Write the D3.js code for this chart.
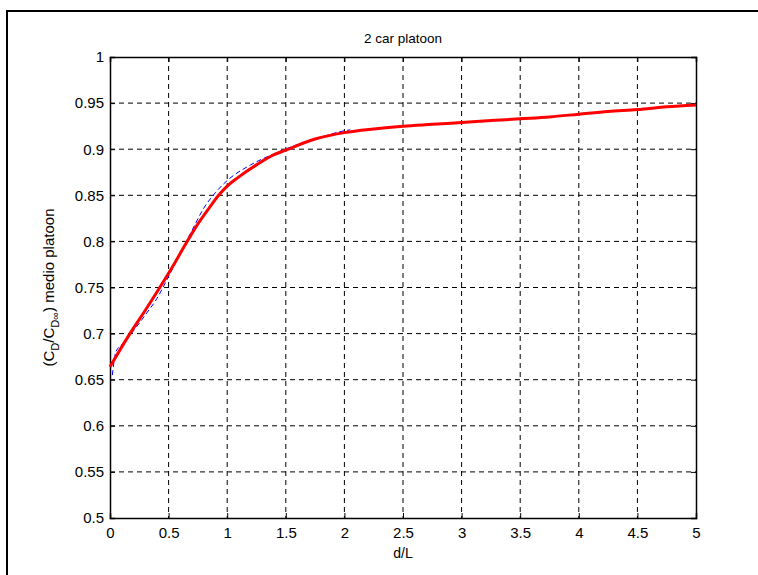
<!DOCTYPE html>
<html>
<head>
<meta charset="utf-8">
<script src="https://cdn.jsdelivr.net/npm/d3@7"></script>
<style>
  body { margin: 0; background: #fff; }
  text { font-family: "Liberation Sans", Arial, sans-serif; fill: #000; }
</style>
</head>
<body>
<div id="chart"></div>
<script>
// Data
const redX = [0, 0.17, 0.3, 0.43, 0.55, 0.64, 0.75, 0.85, 0.92, 1.0, 1.1, 1.25, 1.4, 1.5, 1.75, 2.0, 2.25, 2.5, 2.75, 3.0, 3.25, 3.5, 3.75, 4.0, 4.25, 4.5, 4.75, 5.0];
const redY = [0.664, 0.70, 0.725, 0.751, 0.776, 0.796, 0.819, 0.837, 0.849, 0.86, 0.87, 0.883, 0.894, 0.899, 0.911, 0.918, 0.922, 0.925, 0.927, 0.929, 0.931, 0.933, 0.935, 0.938, 0.941, 0.943, 0.946, 0.948];
const blueX = [0.02, 0.05, 0.1, 0.2, 0.3, 0.4, 0.5, 0.6, 0.7, 0.8, 0.9, 1.0, 1.2, 1.4, 1.6, 1.8, 2.0, 2.05];
const blueY = [0.655, 0.68, 0.688, 0.703, 0.72, 0.738, 0.762, 0.787, 0.812, 0.836, 0.853, 0.866, 0.883, 0.895, 0.905, 0.913, 0.92, 0.921];
const xTicks = [0, 0.5, 1, 1.5, 2, 2.5, 3, 3.5, 4, 4.5, 5];
const yTicks = [0.5, 0.55, 0.6, 0.65, 0.7, 0.75, 0.8, 0.85, 0.9, 0.95, 1];

const W = 758, H = 575;
const margin = {top: 57, right: 62, bottom: 57, left: 110},
    width = W - margin.left - margin.right,
    height = H - margin.top - margin.bottom;

const svg = d3.select("#chart")
  .append("svg")
    .attr("width", W)
    .attr("height", H);

// figure frame
svg.append("rect")
  .attr("x", 7).attr("y", 11)
  .attr("width", W + 10).attr("height", H + 10)
  .attr("fill", "none")
  .attr("stroke", "#000")
  .attr("stroke-width", 2);

const g = svg.append("g")
  .attr("transform", `translate(${margin.left},${margin.top})`);

const x = d3.scaleLinear().domain([0, 5]).range([0, width]);
const y = d3.scaleLinear().domain([0.5, 1]).range([height, 0]);

// grid
g.append("g").selectAll("line")
  .data(xTicks.slice(1, -1))
  .join("line")
    .attr("x1", d => x(d)).attr("x2", d => x(d))
    .attr("y1", 0).attr("y2", height)
    .attr("stroke", "#000").attr("stroke-width", 1)
    .attr("stroke-dasharray", "5,4");
g.append("g").selectAll("line")
  .data(yTicks.slice(1, -1))
  .join("line")
    .attr("x1", 0).attr("x2", width)
    .attr("y1", d => y(d)).attr("y2", d => y(d))
    .attr("stroke", "#000").attr("stroke-width", 1)
    .attr("stroke-dasharray", "5,4");

// axes (ticks inside, box)
const xAxis = g.append("g")
  .attr("transform", `translate(0,${height})`)
  .call(d3.axisBottom(x).tickValues(xTicks).tickSize(-5).tickPadding(9).tickFormat(d3.format("")));
const xTop = g.append("g")
  .call(d3.axisTop(x).tickValues(xTicks).tickSize(-5).tickFormat(""));
const yAxis = g.append("g")
  .call(d3.axisLeft(y).tickValues(yTicks).tickSize(-5).tickPadding(6).tickFormat(d3.format("")));
const yRight = g.append("g")
  .attr("transform", `translate(${width},0)`)
  .call(d3.axisRight(y).tickValues(yTicks).tickSize(-5).tickFormat(""));

[xAxis, xTop, yAxis, yRight].forEach(a => {
  a.select(".domain").attr("stroke", "#000").attr("stroke-width", 1.5);
  a.selectAll(".tick line").attr("stroke", "#000");
  a.selectAll("text")
    .style("font-family", "'Liberation Sans', Arial, sans-serif")
    .style("font-size", "15px")
    .attr("fill", "#000");
});

// blue dashed curve
const line = d3.line().x(d => x(d[0])).y(d => y(d[1])).curve(d3.curveMonotoneX);
g.append("path")
  .datum(d3.zip(blueX, blueY))
  .attr("d", line)
  .attr("fill", "none")
  .attr("stroke", "#0000ff")
  .attr("stroke-width", 1)
  .attr("stroke-dasharray", "5,3");

// red curve
g.append("path")
  .datum(d3.zip(redX, redY))
  .attr("d", line)
  .attr("fill", "none")
  .attr("stroke", "#ff0000")
  .attr("stroke-width", 3);

// title
svg.append("text")
  .attr("x", margin.left + width / 2)
  .attr("y", 43)
  .attr("text-anchor", "middle")
  .style("font-size", "13.5px")
  .text("2 car platoon");

// x label
svg.append("text")
  .attr("x", margin.left + width / 2)
  .attr("y", 558)
  .attr("text-anchor", "middle")
  .style("font-size", "14px")
  .text("d/L");

// y label
const yl = svg.append("text")
  .attr("transform", `translate(54,${margin.top + height / 2}) rotate(-90)`)
  .attr("text-anchor", "middle")
  .style("font-size", "15px");
yl.append("tspan").text("(C");
yl.append("tspan").attr("dy", 5).style("font-size", "11px").text("D");
yl.append("tspan").attr("dy", -5).text("/C");
yl.append("tspan").attr("dy", 5).style("font-size", "11px").text("D\u221E");
yl.append("tspan").attr("dy", -5).text(") medio platoon");
</script>
</body>
</html>
